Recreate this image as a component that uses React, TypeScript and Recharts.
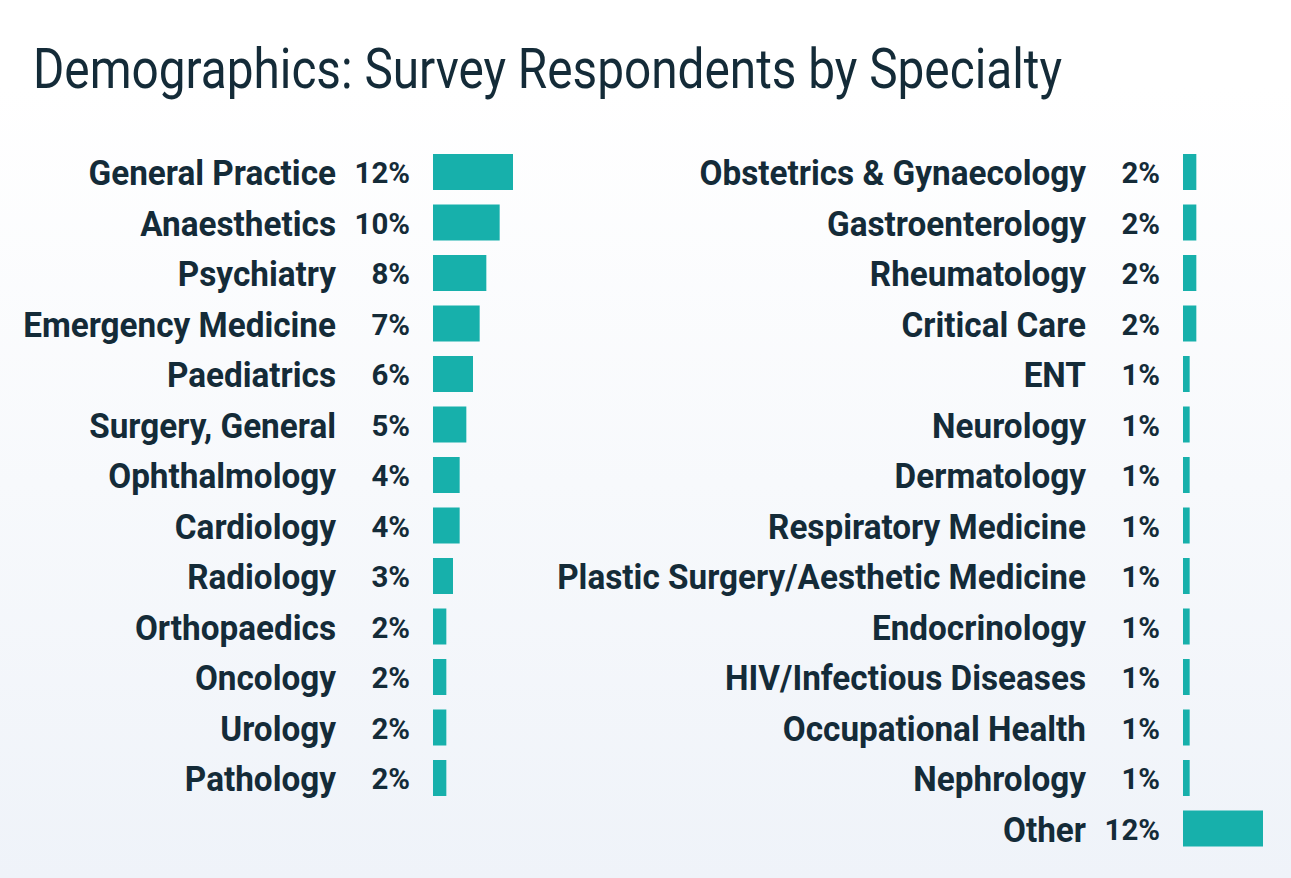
import { BarChart, Bar, XAxis, YAxis } from "recharts";

const leftNames = [
  "General Practice",
  "Anaesthetics",
  "Psychiatry",
  "Emergency Medicine",
  "Paediatrics",
  "Surgery, General",
  "Ophthalmology",
  "Cardiology",
  "Radiology",
  "Orthopaedics",
  "Oncology",
  "Urology",
  "Pathology",
];
const leftValues = [12, 10, 8, 7, 6, 5, 4, 4, 3, 2, 2, 2, 2];

const rightNames = [
  "Obstetrics & Gynaecology",
  "Gastroenterology",
  "Rheumatology",
  "Critical Care",
  "ENT",
  "Neurology",
  "Dermatology",
  "Respiratory Medicine",
  "Plastic Surgery/Aesthetic Medicine",
  "Endocrinology",
  "HIV/Infectious Diseases",
  "Occupational Health",
  "Nephrology",
  "Other",
];
const rightValues = [2, 2, 2, 2, 1, 1, 1, 1, 1, 1, 1, 1, 1, 12];

const ink = "#142b38";
const teal = "#17b0ab";
const font = "Roboto, sans-serif";
const rowH = 50.5;

function makeTick(values: number[], labelX: number, pctX: number) {
  return (props: any) => {
    const { y, index, payload } = props;
    const pct = `${values[index]}%`;
    return (
      <g>
        <g transform={`translate(${labelX},${y}) scale(0.925,1)`}>
          <text x={0} y={0} dy="0.36em" textAnchor="end" fontFamily={font} fontWeight={700} fontSize={36} fill={ink}>
            {payload.value}
          </text>
        </g>
        <g transform={`translate(${pctX},${y}) scale(0.98,1)`}>
          <text x={0} y={0} dy="0.36em" textAnchor="end" fontFamily={font} fontWeight={700} fontSize={30} fill={ink}>
            {pct}
          </text>
        </g>
      </g>
    );
  };
}

export default function App() {
  const leftData = leftNames.map((name, i) => ({ name, value: leftValues[i] }));
  const rightData = rightNames.map((name, i) => ({ name, value: rightValues[i] }));
  const top = 172 - rowH / 2;

  return (
    <div
      style={{
        position: "relative",
        width: 1291,
        height: 878,
        overflow: "hidden",
        background: "linear-gradient(180deg, #ffffff 0%, #ffffff 10%, #eff3f9 100%)",
      }}
    >
      <style>{`body{margin:0}`}</style>
      <svg width={1291} height={120} style={{ position: "absolute", left: 0, top: 0 }}>
        <text
          x={33}
          y={88}
          fontFamily={font}
          fontWeight={400}
          fontSize={55}
          fill={ink}
          textLength={1029}
          lengthAdjust="spacingAndGlyphs"
        >
          Demographics: Survey Respondents by Specialty
        </text>
      </svg>

      <div style={{ position: "absolute", left: 0, top }}>
        <BarChart
          width={513}
          height={rowH * leftNames.length}
          data={leftData}
          layout="vertical"
          margin={{ top: 0, right: 0, bottom: 0, left: 0 }}
        >
          <XAxis type="number" domain={[0, 12]} hide />
          <YAxis
            type="category"
            dataKey="name"
            width={433}
            axisLine={false}
            tickLine={false}
            interval={0}
            tick={makeTick(leftValues, 336, 410)}
          />
          <Bar dataKey="value" fill={teal} barSize={36} isAnimationActive={false} />
        </BarChart>
      </div>

      <div style={{ position: "absolute", left: 540, top }}>
        <BarChart
          width={723}
          height={rowH * rightNames.length}
          data={rightData}
          layout="vertical"
          margin={{ top: 0, right: 0, bottom: 0, left: 0 }}
        >
          <XAxis type="number" domain={[0, 12]} hide />
          <YAxis
            type="category"
            dataKey="name"
            width={643}
            axisLine={false}
            tickLine={false}
            interval={0}
            tick={makeTick(rightValues, 546, 620)}
          />
          <Bar dataKey="value" fill={teal} barSize={36} isAnimationActive={false} />
        </BarChart>
      </div>
    </div>
  );
}
